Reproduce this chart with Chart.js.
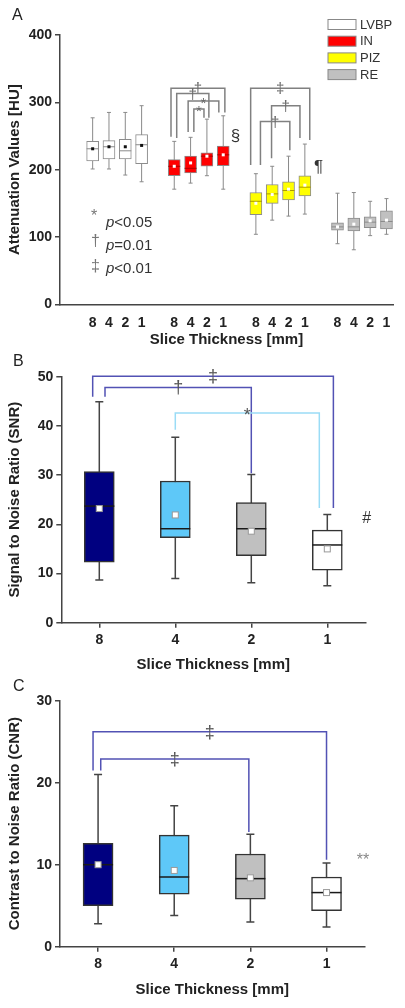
<!DOCTYPE html>
<html>
<head>
<meta charset="utf-8">
<title>Slice thickness box plots</title>
<script src="https://cdn.jsdelivr.net/npm/chart.js@4.4.1/dist/chart.umd.min.js"></script>
<style>
  html, body { margin: 0; padding: 0; background: #fff; }
  canvas { display: block; }
</style>
</head>
<body>
<canvas id="chartA" width="405" height="350"></canvas>
<canvas id="chartB" width="405" height="325"></canvas>
<canvas id="chartC" width="405" height="333"></canvas>
<script>
// Shared categories
const sliceLabels = ['8', '4', '2', '1'];
const regionNames = ['LVBP', 'IN', 'PIZ', 'RE'];

// Panel A - attenuation values [HU]
// order: LVBP 8/4/2/1, IN 8/4/2/1, PIZ 8/4/2/1, RE 8/4/2/1
const huMin  = [201, 201, 192, 182, 171, 180, 191, 171, 104, 125, 131, 134,  90,  81, 102, 104];
const huQ1   = [213, 216, 216, 209, 191, 195, 205, 206, 133, 150, 155, 161, 110, 109, 114, 112];
const huMed  = [231, 234, 228, 237, 205, 202, 220, 222, 153, 164, 169, 174, 115, 115, 122, 123];
const huQ3   = [242, 243, 245, 252, 215, 220, 225, 235, 166, 178, 182, 191, 121, 128, 130, 139];
const huMax  = [277, 285, 285, 295, 242, 248, 275, 280, 194, 205, 220, 238, 165, 166, 153, 157];
const huMean = [231, 234, 234, 236, 205, 210, 220, 222, 150, 163, 171, 177, 115, 119, 124, 125];

// Panel B - signal to noise ratio
const snrMin  = [8.7, 9.0, 8.1, 7.5];
const snrQ1   = [12.3, 17.3, 13.6, 10.7];
const snrMed  = [23.7, 19.1, 19.1, 15.8];
const snrQ3   = [30.7, 28.8, 24.4, 18.8];
const snrMax  = [44.9, 37.7, 30.1, 22.0];
const snrMean = [23.2, 21.9, 18.6, 15.0];

// Panel C - contrast to noise ratio
const cnrMin  = [2.8, 3.8, 3.0, 2.4];
const cnrQ1   = [5.0, 6.4, 5.8, 4.4];
const cnrMed  = [10.0, 8.5, 8.3, 6.6];
const cnrQ3   = [12.6, 13.6, 11.3, 8.5];
const cnrMax  = [21.0, 17.2, 13.7, 10.2];
const cnrMean = [10.0, 9.3, 8.4, 6.6];

// Significance brackets (box indices, bracket top and leg ends in data units)
const bracketsA = [
    { from: 4, to: 7, top: 321, endFrom: 249, endTo: 285, dxFrom: -0.2, dxTo: 0.1, sym: '\u2020' },
    { from: 4, to: 6, top: 313, endFrom: 247, endTo: 277, dxFrom: 0.15, dxTo: 0.12, sym: '\u2020' },
    { from: 5, to: 7, top: 302, endFrom: 256, endTo: 285, dxFrom: -0.15, dxTo: -0.27, sym: '*' },
    { from: 5, to: 6, top: 290, endFrom: 256, endTo: 277, dxFrom: 0.2, dxTo: -0.18, sym: '*' },
    { from: 8, to: 11, top: 321, endFrom: 207, endTo: 244, dxFrom: -0.32, dxTo: 0.3, sym: '\u2021' },
    { from: 9, to: 11, top: 295, endFrom: 217, endTo: 247, dxFrom: -0.04, dxTo: -0.3, sym: '\u2020' },
    { from: 8, to: 10, top: 271.5, endFrom: 207, endTo: 229, dxFrom: 0.28, dxTo: 0.08, sym: '\u2020' }
];
const bracketsB = [
    { from: 0, to: 3, top: 50.1, endFrom: 45.9, endTo: 23.3, dxFrom: -0.087, dxTo: 0.08, sym: '\u2021', dark: true },
    { from: 0, to: 2, top: 47.8, endFrom: 45.9, endTo: 30.4, dxFrom: 0.075, dxTo: 0, sym: '\u2020', dark: true },
    { from: 1, to: 3, top: 42.6, endFrom: 39.2, endTo: 23.3, dxFrom: 0, dxTo: -0.105, sym: '*', dark: false }
];
const bracketsC = [
    { from: 0, to: 3, top: 26.2, endFrom: 21.5, endTo: 10.6, dxFrom: -0.066, dxTo: 0, sym: '\u2021', dark: true },
    { from: 0, to: 2, top: 22.9, endFrom: 21.5, endTo: 14.0, dxFrom: 0.035, dxTo: -0.02, sym: '\u2021', dark: true }
];

const FONT = '"Liberation Sans", Arial, sans-serif';
Chart.defaults.font.family = FONT;
Chart.defaults.color = '#222';

// x position of each box in panel A: four groups with one empty slot between them
const posA = regionNames.flatMap((r, g) => sliceLabels.map((s, i) => g * 5 + i));

const regionFill   = ['#ffffff', '#ff0000', '#ffff00', '#c0c0c0'];
const regionMedian = ['#8a8a8a', '#b00000', '#a89800', '#8a8a8a'];
const regionMean   = ['#111111', '#ffffff', '#ffffff', '#ffffff'];
const sliceFill    = ['#000080', '#5ec8f8', '#c0c0c0', '#ffffff'];

// whiskers behind the boxes, medians and means on top
function boxPlotPlugin(s, look) {
    const eachBox = (chart, fn) => {
        chart.data.datasets.forEach((ds, d) => {
            const els = chart.getDatasetMeta(d).data;
            els.forEach((bar, i) => fn(bar, d * els.length + i, d));
        });
    };
    return {
        id: 'boxPlot',
        beforeDatasetsDraw(chart) {
            const { ctx, scales: { y } } = chart;
            ctx.save();
            ctx.strokeStyle = look.whisker;
            ctx.lineWidth = look.whiskerWidth;
            eachBox(chart, (bar, k) => {
                const top = y.getPixelForValue(s.max[k]);
                const bot = y.getPixelForValue(s.min[k]);
                const c = look.cap / 2;
                ctx.beginPath();
                ctx.moveTo(bar.x, top); ctx.lineTo(bar.x, bot);
                ctx.moveTo(bar.x - c, top); ctx.lineTo(bar.x + c, top);
                ctx.moveTo(bar.x - c, bot); ctx.lineTo(bar.x + c, bot);
                ctx.stroke();
            });
            ctx.restore();
        },
        afterDatasetsDraw(chart) {
            const { ctx, scales: { y } } = chart;
            ctx.save();
            eachBox(chart, (bar, k, d) => {
                const half = bar.width / 2;
                const ym = y.getPixelForValue(s.med[k]);
                ctx.strokeStyle = look.median(d, k);
                ctx.lineWidth = look.medianWidth;
                ctx.beginPath();
                ctx.moveTo(bar.x - half, ym); ctx.lineTo(bar.x + half, ym);
                ctx.stroke();
                const yMean = y.getPixelForValue(s.mean[k]);
                const m = look.meanSize;
                ctx.fillStyle = look.mean(d, k);
                ctx.fillRect(bar.x - m / 2, yMean - m / 2, m, m);
                if (look.meanBorder) {
                    ctx.strokeStyle = look.meanBorder;
                    ctx.lineWidth = 1;
                    ctx.strokeRect(bar.x - m / 2, yMean - m / 2, m, m);
                }
            });
            ctx.restore();
        }
    };
}

function bracketPlugin(list, xOf, look) {
    return {
        id: 'brackets',
        afterDatasetsDraw(chart) {
            const { ctx, scales: { x, y } } = chart;
            ctx.save();
            ctx.lineWidth = look.width;
            ctx.textAlign = 'center';
            ctx.textBaseline = 'middle';
            ctx.font = look.font;
            list.forEach(b => {
                const x1 = x.getPixelForValue(xOf(b.from) + b.dxFrom);
                const x2 = x.getPixelForValue(xOf(b.to) + b.dxTo);
                const yt = y.getPixelForValue(b.top);
                ctx.strokeStyle = look.color(b);
                ctx.beginPath();
                ctx.moveTo(x1, y.getPixelForValue(b.endFrom));
                ctx.lineTo(x1, yt);
                ctx.lineTo(x2, yt);
                ctx.lineTo(x2, y.getPixelForValue(b.endTo));
                ctx.stroke();
                ctx.fillStyle = look.symColor;
                ctx.fillText(b.sym, (x1 + x2) / 2, yt + (b.sym === '*' ? 3 : 1));
            });
            ctx.restore();
        }
    };
}

function notesPlugin(draw) {
    return { id: 'notes', afterDraw(chart) { chart.ctx.save(); draw(chart.ctx, chart.scales); chart.ctx.restore(); } };
}

function yAxis(title, max, step, width) {
    return {
        min: 0,
        max: max,
        ticks: { stepSize: step, padding: 3, color: '#222', font: { size: 14, weight: 'bold' } },
        grid: { drawOnChartArea: false, tickLength: 5, color: '#444', lineWidth: 1.5 },
        border: { color: '#444', width: 1.5 },
        title: { display: true, text: title, color: '#222', font: { size: 15, weight: 'bold' }, padding: { top: 6, bottom: 0 } },
        afterFit: ax => { ax.width = width; }
    };
}

function xTitle(pad) {
    return { display: true, text: 'Slice Thickness [mm]', color: '#222', font: { size: 15, weight: 'bold' }, padding: { top: 0, bottom: pad } };
}

// ---------- Panel A ----------
new Chart(document.getElementById('chartA'), {
    type: 'bar',
    data: {
        datasets: regionNames.map((name, g) => ({
            label: name,
            data: sliceLabels.map((s, i) => ({ x: posA[g * 4 + i], y: [huQ1[g * 4 + i], huQ3[g * 4 + i]] })),
            backgroundColor: regionFill[g],
            borderColor: '#8c8c8c',
            borderWidth: 1,
            borderSkipped: false,
            barThickness: 12,
            grouped: false
        }))
    },
    options: {
        responsive: false,
        animation: false,
        layout: { padding: { top: 35, right: 12, left: 0, bottom: 0 } },
        plugins: { legend: { display: false }, tooltip: { enabled: false } },
        scales: {
            x: {
                type: 'linear',
                min: -2,
                max: 18.4,
                offset: false,
                afterBuildTicks: ax => { ax.ticks = posA.map(v => ({ value: v })); },
                ticks: {
                    autoSkip: false,
                    maxRotation: 0,
                    padding: 10,
                    color: '#222',
                    font: { size: 14, weight: 'bold' },
                    callback: v => sliceLabels[posA.indexOf(v) % 4]
                },
                grid: { display: false, drawTicks: false },
                border: { color: '#444', width: 1.5 },
                title: xTitle(1),
                afterFit: ax => { ax.height = 45.7; }
            },
            y: yAxis('Attenuation Values [HU]', 400, 100, 60)
        }
    },
    plugins: [
        boxPlotPlugin({ min: huMin, med: huMed, max: huMax, mean: huMean }, {
            whisker: '#8a8a8a', whiskerWidth: 1, cap: 4, medianWidth: 1,
            median: d => regionMedian[d], mean: d => regionMean[d], meanSize: 3
        }),
        bracketPlugin(bracketsA, k => posA[k], {
            width: 1.5, font: '15px ' + FONT, color: () => '#808080', symColor: '#6a6a6a'
        }),
        notesPlugin((ctx, { x, y }) => {
            ctx.fillStyle = '#222';
            ctx.font = '16px ' + FONT;
            ctx.textBaseline = 'alphabetic';
            ctx.fillText('A', 12, 20);
            // region legend
            regionNames.forEach((name, g) => {
                const top = 19.5 + g * 16.7;
                ctx.fillStyle = regionFill[g];
                ctx.fillRect(328, top, 28, 10);
                ctx.strokeStyle = '#888';
                ctx.lineWidth = 1;
                ctx.strokeRect(328, top, 28, 10);
                ctx.fillStyle = '#333';
                ctx.font = '13px ' + FONT;
                ctx.textBaseline = 'middle';
                ctx.fillText(name, 360, top + 5.5);
            });
            // p-value key
            const keys = [['*', '<0.05', 227, 6], ['\u2020', '=0.01', 250, 4], ['\u2021', '<0.01', 273, 2]];
            keys.forEach(([sym, txt, base, lift]) => {
                ctx.textBaseline = 'alphabetic';
                ctx.fillStyle = '#777';
                ctx.font = '16px ' + FONT;
                ctx.fillText(sym, 91, base - lift);
                ctx.fillStyle = '#333';
                ctx.font = 'italic 15px ' + FONT;
                ctx.fillText('p', 106, base);
                const w = ctx.measureText('p').width;
                ctx.font = '15px ' + FONT;
                ctx.fillText(txt, 106 + w, base);
            });
            ctx.fillStyle = '#333';
            ctx.font = '17px ' + FONT;
            ctx.textAlign = 'center';
            ctx.textBaseline = 'middle';
            ctx.fillText('\u00a7', x.getPixelForValue(posA[7] + 0.75), y.getPixelForValue(249));
            ctx.fillText('\u00b6', x.getPixelForValue(posA[11] + 0.84), y.getPixelForValue(204));
        })
    ]
});

// ---------- Panels B and C ----------
function slicePanel(id, opts) {
    new Chart(document.getElementById(id), {
        type: 'bar',
        data: {
            labels: sliceLabels,
            datasets: [{
                data: opts.q1.map((q, i) => [q, opts.q3[i]]),
                backgroundColor: sliceFill,
                borderColor: '#333',
                borderWidth: 1.5,
                borderSkipped: false,
                barThickness: 30
            }]
        },
        options: {
            responsive: false,
            animation: false,
            layout: { padding: opts.padding },
            plugins: { legend: { display: false }, tooltip: { enabled: false } },
            scales: {
                x: {
                    ticks: { padding: 4, color: '#222', font: { size: 14, weight: 'bold' } },
                    grid: { drawOnChartArea: false, offset: false, tickLength: 5, color: '#444', lineWidth: 1.5 },
                    border: { color: '#444', width: 1.5 },
                    title: xTitle(opts.titlePad),
                    afterFit: ax => { ax.height = opts.xHeight; }
                },
                y: yAxis(opts.title, opts.max, 10, opts.yWidth)
            }
        },
        plugins: [
            boxPlotPlugin({ min: opts.min, med: opts.med, max: opts.max_, mean: opts.mean }, {
                whisker: '#444', whiskerWidth: 1.5, cap: 8, medianWidth: 1.5,
                median: () => '#1a1a1a', mean: () => '#ffffff', meanSize: 6, meanBorder: '#999'
            }),
            bracketPlugin(opts.brackets, k => k, {
                width: 1.5, font: '18px ' + FONT,
                color: b => (b.dark ? '#5252b4' : '#9adcf6'), symColor: '#555'
            }),
            notesPlugin((ctx, { x, y }) => {
                ctx.fillStyle = '#222';
                ctx.font = '16px ' + FONT;
                ctx.textBaseline = 'alphabetic';
                ctx.fillText(opts.letter, 13, 15.5);
                ctx.fillStyle = opts.markColor;
                ctx.font = '16px ' + FONT;
                ctx.textAlign = 'center';
                ctx.textBaseline = 'middle';
                ctx.fillText(opts.mark, x.getPixelForValue(opts.markAt[0]), y.getPixelForValue(opts.markAt[1]));
            })
        ]
    });
}

slicePanel('chartB', {
    letter: 'B', title: 'Signal to Noise Ratio (SNR)', max: 50,
    min: snrMin, q1: snrQ1, med: snrMed, q3: snrQ3, max_: snrMax, mean: snrMean,
    brackets: bracketsB, mark: '#', markColor: '#333', markAt: [3.52, 21.2],
    padding: { top: 26.7, right: 39.7, left: 0, bottom: 0 }, xHeight: 52.3, yWidth: 61.3, titlePad: 1
});

slicePanel('chartC', {
    letter: 'C', title: 'Contrast to Noise Ratio (CNR)', max: 30,
    min: cnrMin, q1: cnrQ1, med: cnrMed, q3: cnrQ3, max_: cnrMax, mean: cnrMean,
    brackets: bracketsC, mark: '**', markColor: '#888', markAt: [3.48, 10.5],
    padding: { top: 25.7, right: 40.4, left: 0, bottom: 6.7 }, xHeight: 54.6, yWidth: 60, titlePad: 2
});
</script>
</body>
</html>
